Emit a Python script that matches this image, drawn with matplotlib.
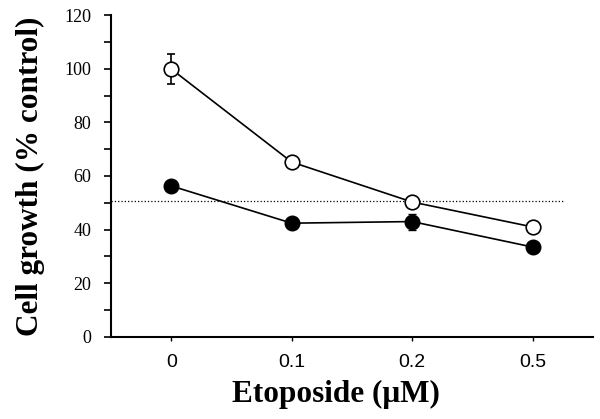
import matplotlib
matplotlib.use('Agg')
import matplotlib.pyplot as plt
from matplotlib.ticker import MultipleLocator

doses = ['0', '0.1', '0.2', '0.5']
open_vals = [99.9, 65.2, 50.3, 41.0]
open_err = [5.7, 0.8, 1.5, 1.5]
closed_vals = [56.3, 42.4, 43.0, 33.5]
closed_err = [0.8, 0.8, 3.0, 0.8]
half_line = 50.6

fig = plt.figure(figsize=(6, 4.19), dpi=100)
ax = fig.add_axes([0.185, 0.196, 0.803, 0.768])
x = list(range(len(doses)))

ax.errorbar(x, closed_vals, yerr=closed_err, fmt='-o', color='black',
            mfc='black', mec='black', ms=10.5, lw=1.2, capsize=3, elinewidth=1.2, zorder=3)
ax.errorbar(x, open_vals, yerr=open_err, fmt='-o', color='black',
            mfc='white', mec='black', ms=10.5, mew=1.2, lw=1.2, capsize=3, elinewidth=1.2, zorder=4)
ax.plot([-0.5, 3.25], [half_line, half_line], linestyle=':', color='black', lw=0.9, zorder=2)

ax.set_xlim(-0.5, 3.5)
ax.set_ylim(0, 120)
ax.set_xticks(x)
ax.set_xticklabels(doses, fontfamily='Liberation Sans', fontsize=14)
ax.yaxis.set_major_locator(MultipleLocator(20))
ax.yaxis.set_minor_locator(MultipleLocator(10))
for lab in ax.get_yticklabels():
    lab.set_fontfamily('Liberation Serif')
    lab.set_fontsize(13)
ax.tick_params(axis='y', which='major', length=5, width=1.2, direction='out', pad=9)
ax.tick_params(axis='y', which='minor', length=5, width=1.2, direction='out')
ax.tick_params(axis='x', length=3, width=1, direction='out', pad=9)

for s in ['top', 'right']:
    ax.spines[s].set_visible(False)
for s in ['left', 'bottom']:
    ax.spines[s].set_linewidth(1.5)

ax.set_ylabel('Cell growth (% control)', fontfamily='Liberation Serif',
              fontweight='bold', fontsize=22.5)
ax.yaxis.set_label_coords(-0.185 + 23 / 482, 0.5)
ax.set_xlabel('Etoposide (μM)', fontfamily='Liberation Serif',
              fontweight='bold', fontsize=22.5, labelpad=7)
ax.xaxis.label.set_x(0.467)

fig.savefig('out.png', dpi=100)
